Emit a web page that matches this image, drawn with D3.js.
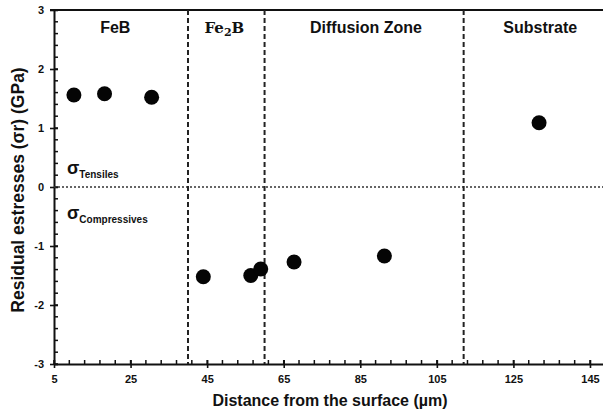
<!DOCTYPE html>
<html>
<head>
	<meta charset="UTF-8">
	<title>index</title>
	<script src="https://cdn.jsdelivr.net/npm/d3@7"></script>
	<style>
		body { margin: 0; background: #fff; }
		svg { display: block; font-family: "Liberation Sans", Arial, sans-serif; font-weight: bold; }
	</style>
</head>
<body>
<script>
	// measured points
	var distance = [10.2, 18.2, 30.5, 44.0, 56.4, 59.0, 67.7, 91.3, 131.7];
	var stress = [1.56, 1.58, 1.52, -1.52, -1.50, -1.39, -1.27, -1.17, 1.09];
	// zone borders and names
	var borders = [40, 60, 112];
	var zoneNames = ["FeB", "Fe2B", "Diffusion Zone", "Substrate"];
	var zoneLabelAt = [21, 49.5, 86.5, 132];
	var xTicks = [5, 25, 45, 65, 85, 105, 125, 145];
	var yTicks = [-3, -2, -1, 0, 1, 2, 3];

	var W = 603, H = 417;
	var plotL = 54, plotR = 603, plotT = 10, plotB = 364;

	var x = d3.scaleLinear().domain([5, 148.4]).range([plotL, plotR]);
	var y = d3.scaleLinear().domain([-3, 3]).range([plotB, plotT]);

	var svg = d3.select("body").append("svg").attr("width", W).attr("height", H);

	// minor ticks (inside)
	var xMinor = d3.range(5, 148.4, 4);
	svg.append("g").selectAll("line").data(xMinor).enter().append("line")
		.attr("x1", function(d) { return x(d); }).attr("x2", function(d) { return x(d); })
		.attr("y1", plotB).attr("y2", plotB - 4)
		.attr("stroke", "#111").attr("stroke-width", 1.5);
	var yMinor = d3.range(-3, 3.01, 0.2);
	svg.append("g").selectAll("line").data(yMinor).enter().append("line")
		.attr("x1", plotL).attr("x2", plotL + 4)
		.attr("y1", function(d) { return y(d); }).attr("y2", function(d) { return y(d); })
		.attr("stroke", "#111").attr("stroke-width", 1.5);

	// axes
	var xAxis = d3.axisBottom(x).tickValues(xTicks).tickSizeInner(4).tickSizeOuter(0).tickPadding(7);
	var gx = svg.append("g").attr("transform", "translate(0," + plotB + ")").call(xAxis);
	var yAxis = d3.axisLeft(y).tickValues(yTicks).tickFormat(function(d) { return String(d); })
		.tickSizeInner(4).tickSizeOuter(0).tickPadding(6);
	var gy = svg.append("g").attr("transform", "translate(" + plotL + ",0)").call(yAxis);
	[gx, gy].forEach(function(g) {
		g.attr("font-family", null).attr("font-size", null);
		g.select(".domain").attr("stroke", "#111").attr("stroke-width", 2);
		g.selectAll(".tick line").attr("stroke", "#111").attr("stroke-width", 1.6);
		g.selectAll("text").attr("fill", "#111").style("font-size", "11px");
	});
	// major ticks cross the axis
	gx.selectAll(".tick line").attr("y1", -4);
	gy.selectAll(".tick line").attr("x1", 4);

	// top border
	svg.append("line").attr("x1", plotL - 4).attr("x2", plotR)
		.attr("y1", y(3)).attr("y2", y(3))
		.attr("stroke", "#111").attr("stroke-width", 2);

	// zero line
	svg.append("line").attr("x1", plotL).attr("x2", plotR)
		.attr("y1", y(0)).attr("y2", y(0))
		.attr("stroke", "#333").attr("stroke-width", 1.6).attr("stroke-dasharray", "2,2");

	// zone borders
	svg.append("g").selectAll("line").data(borders).enter().append("line")
		.attr("x1", function(d) { return x(d); }).attr("x2", function(d) { return x(d); })
		.attr("y1", y(3)).attr("y2", plotB)
		.attr("stroke", "#222").attr("stroke-width", 2).attr("stroke-dasharray", "5,3");

	// zone names
	zoneNames.forEach(function(name, i) {
		var t = svg.append("text").attr("x", x(zoneLabelAt[i])).attr("y", 33)
			.attr("text-anchor", "middle").attr("fill", "#111");
		if (name === "Fe2B") {
			t.style("font-family", "'DejaVu Serif', serif").style("font-size", "15px");
			t.append("tspan").text("Fe");
			t.append("tspan").attr("dy", 3).style("font-size", "11px").text("2");
			t.append("tspan").attr("dy", -3).text("B");
		} else {
			t.style("font-size", "16px").text(name);
		}
	});

	// sigma labels
	function sigma(txt, yy) {
		var t = svg.append("text").attr("x", 67).attr("y", yy).attr("fill", "#111");
		t.append("tspan").style("font-size", "18px").text("σ");
		t.append("tspan").attr("dy", 4).style("font-size", "10px").text(txt);
	}
	sigma("Tensiles", 174);
	sigma("Compressives", 219);

	// points
	svg.append("g").selectAll("circle").data(distance).enter().append("circle")
		.attr("cx", function(d) { return x(d); })
		.attr("cy", function(d, i) { return y(stress[i]); })
		.attr("r", 7.5).attr("fill", "#050505");

	// axis titles
	svg.append("text").attr("x", 330).attr("y", 406).attr("text-anchor", "middle")
		.attr("fill", "#111").style("font-size", "16px").text("Distance from the surface (µm)");
	svg.append("text").attr("transform", "translate(24,190) rotate(-90)").attr("text-anchor", "middle")
		.attr("fill", "#111").style("font-size", "17.5px").text("Residual estresses  (σr) (GPa)");
</script>
</body>
</html>
